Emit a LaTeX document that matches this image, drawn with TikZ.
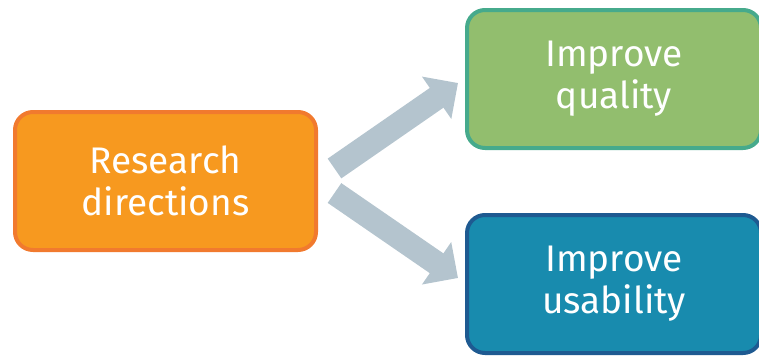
\documentclass[tikz,border=0pt]{standalone}
\usepackage{fontspec}
\setmainfont{Fira Sans}
\usetikzlibrary{arrows.meta}
\definecolor{srcfill}{HTML}{F7991F}
\definecolor{srcline}{HTML}{F17A2E}
\definecolor{qualfill}{HTML}{92BE6E}
\definecolor{qualline}{HTML}{46AA8C}
\definecolor{usefill}{HTML}{188BAE}
\definecolor{useline}{HTML}{1E5A91}
\definecolor{flow}{HTML}{B4C4CE}
\tikzset{
  box/.style={rectangle, rounded corners=18pt, line width=4pt,
    minimum height=138pt, align=center, text=white,
    font=\fontsize{37}{42}\selectfont},
  flowarrow/.style={draw=flow, line width=24pt,
    -{Triangle[width=50pt,length=26pt]}},
}
\begin{document}
\begin{tikzpicture}[x=1pt,y=-1pt]
  \useasboundingbox (0,0) rectangle (759,356);
  \node[box, fill=srcfill, draw=srcline, minimum width=301pt] (src) at (165.5,181) {Research\\directions};
  \node[box, fill=qualfill, draw=qualline, minimum width=294pt] (qual) at (614,79) {Improve\\quality};
  \node[box, fill=usefill, draw=useline, minimum width=294pt] (use) at (614,284) {Improve\\usability};
  % arrow ends sit in the gap between the boxes
  \coordinate (upTail) at (334.5,168.5);
  \coordinate (upTip) at (458,83);
  \coordinate (downTail) at (334.5,193);
  \coordinate (downTip) at (458,278);
  \draw[flowarrow] (upTail) -- (upTip);
  \draw[flowarrow] (downTail) -- (downTip);
\end{tikzpicture}
\end{document}
